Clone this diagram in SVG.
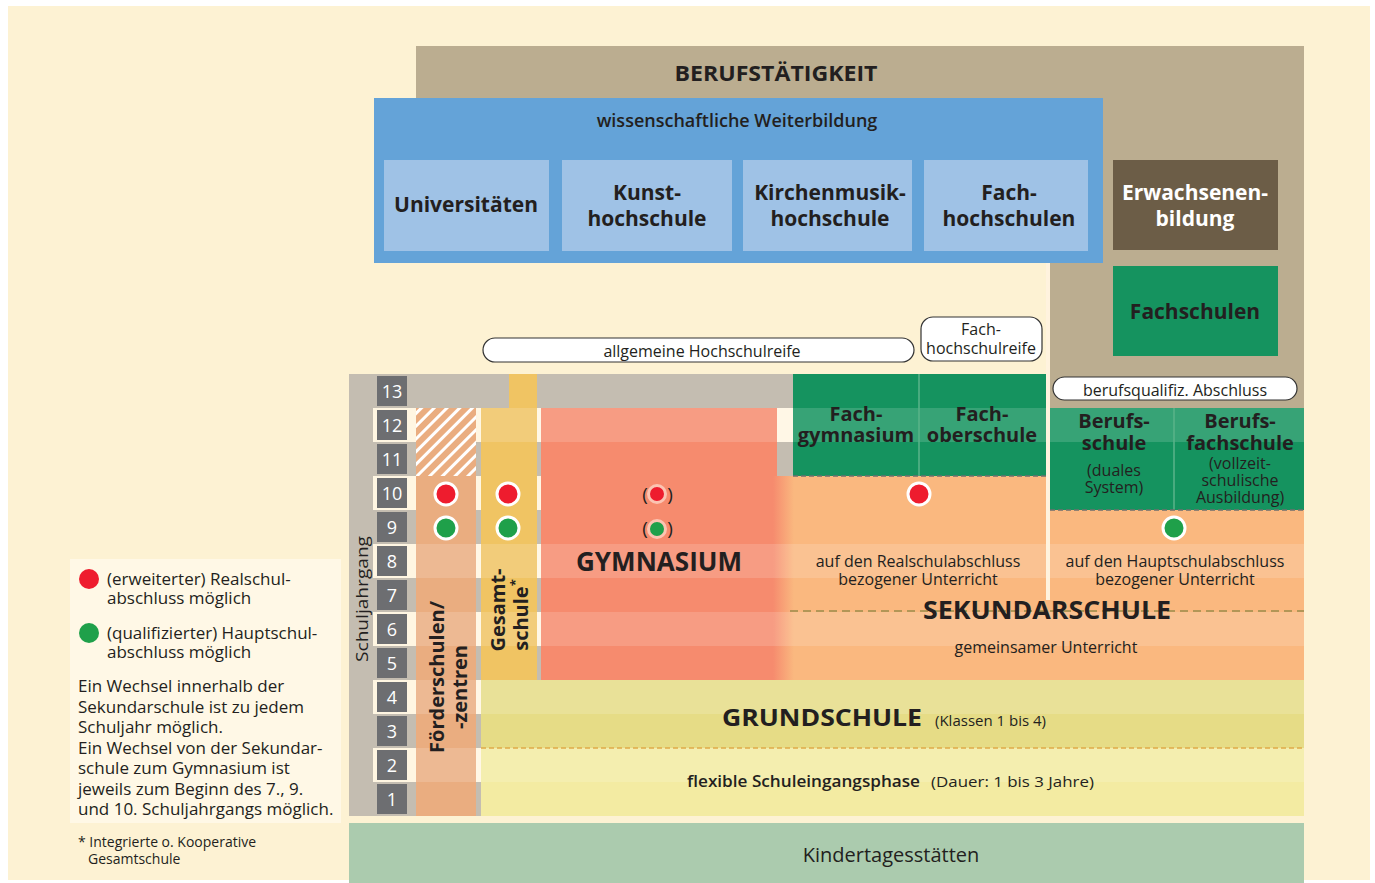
<svg xmlns="http://www.w3.org/2000/svg" width="1375" height="883" viewBox="0 0 1375 883">
<style>
text{font-family:"Open Sans","Liberation Sans",sans-serif;fill:#231f20}
.t{font-size:21px;font-weight:700;text-anchor:middle}
.tw{font-size:21px;font-weight:700;text-anchor:middle;fill:#fff}
.big{font-weight:700;text-anchor:middle}
.m{font-size:16px;text-anchor:middle}
.lg{font-size:17px}
.num{fill:#fff;font-size:18px;text-anchor:middle}
.hl{fill:#fff;opacity:.15}
.cr{fill:#fff6e2}
.pill{fill:#fff;stroke:#333;stroke-width:1.2}
.rd{fill:#ee1c2e;stroke:#fff;stroke-width:3}
.gn{fill:#1fa04a;stroke:#fff;stroke-width:3}
.rdg{fill:#ee1c2e;stroke:#fbc4b2;stroke-width:3}
.gng{fill:#1fa04a;stroke:#fbc4b2;stroke-width:3}
.box{fill:#6d6e71}
</style>
<defs>
<pattern id="hatch" patternUnits="userSpaceOnUse" width="9" height="9" patternTransform="rotate(45)">
<rect width="9" height="9" fill="#eaad80"/>
<rect width="3" height="9" fill="#fff"/>
</pattern>
<linearGradient id="fade" x1="0" x2="1" y1="0" y2="0">
<stop offset="0" stop-color="#f68b6e"/>
<stop offset="1" stop-color="#fab87f"/>
</linearGradient>
</defs>

<rect width="1375" height="883" fill="#fff"/>
<rect x="8" y="6" width="1362" height="874" fill="#fdf2d3"/>

<g id="berufstaetigkeit">
<path d="M416,46 H1304 V408 H1050 V263 H416 Z" fill="#bbad90"/>
<text x="776" y="81" class="big" font-size="21" textLength="203" lengthAdjust="spacingAndGlyphs">BERUFSTÄTIGKEIT</text>
</g>

<g id="weiterbildung">
<rect x="374" y="98" width="729" height="165" fill="#64a3d8"/>
<text x="737" y="127" font-size="18" font-weight="600" text-anchor="middle">wissenschaftliche Weiterbildung</text>
</g>
<g id="universitaeten"><rect x="384" y="160" width="165" height="91" fill="#9fc2e6"/><text x="466" y="212" class="t">Universitäten</text></g>
<g id="kunsthochschule"><rect x="562" y="160" width="170" height="91" fill="#9fc2e6"/><text x="647" y="200" class="t">Kunst-</text><text x="647" y="226" class="t">hochschule</text></g>
<g id="kirchenmusik"><rect x="743" y="160" width="169" height="91" fill="#9fc2e6"/><text x="830" y="200" class="t">Kirchenmusik-</text><text x="830" y="226" class="t">hochschule</text></g>
<g id="fachhochschulen"><rect x="924" y="160" width="164" height="91" fill="#9fc2e6"/><text x="1009" y="200" class="t">Fach-</text><text x="1009" y="226" class="t">hochschulen</text></g>
<g id="erwachsenenbildung"><rect x="1113" y="160" width="165" height="90" fill="#6c5d47"/><text x="1195" y="200" class="tw" font-size="22">Erwachsenen-</text><text x="1195" y="226" class="tw">bildung</text></g>
<g id="fachschulen"><rect x="1113" y="266" width="165" height="90" fill="#15935f"/><text x="1195" y="319" class="t" font-size="22">Fachschulen</text></g>

<g id="grid-base">
<rect x="349" y="374" width="697" height="442" fill="#c4bdb1"/>
<rect class="cr" x="373" y="408" width="673" height="34"/>
<rect class="cr" x="373" y="476" width="673" height="34"/>
<rect class="cr" x="373" y="544" width="673" height="34"/>
<rect class="cr" x="373" y="612" width="673" height="34"/>
<rect class="cr" x="373" y="680" width="673" height="34"/>
<rect class="cr" x="373" y="748" width="673" height="34"/>
<text transform="translate(368,599) rotate(-90)" font-size="17" text-anchor="middle" textLength="126" lengthAdjust="spacingAndGlyphs">Schuljahrgang</text>
</g>

<g id="schuljahrgang-numbers">
<rect class="box" x="377" y="376" width="30" height="30"/><text class="num" x="392" y="398">13</text>
<rect class="box" x="377" y="410" width="30" height="30"/><text class="num" x="392" y="432">12</text>
<rect class="box" x="377" y="444" width="30" height="30"/><text class="num" x="392" y="466">11</text>
<rect class="box" x="377" y="478" width="30" height="30"/><text class="num" x="392" y="500">10</text>
<rect class="box" x="377" y="512" width="30" height="30"/><text class="num" x="392" y="534">9</text>
<rect class="box" x="377" y="546" width="30" height="30"/><text class="num" x="392" y="568">8</text>
<rect class="box" x="377" y="580" width="30" height="30"/><text class="num" x="392" y="602">7</text>
<rect class="box" x="377" y="614" width="30" height="30"/><text class="num" x="392" y="636">6</text>
<rect class="box" x="377" y="648" width="30" height="30"/><text class="num" x="392" y="670">5</text>
<rect class="box" x="377" y="682" width="30" height="30"/><text class="num" x="392" y="704">4</text>
<rect class="box" x="377" y="716" width="30" height="30"/><text class="num" x="392" y="738">3</text>
<rect class="box" x="377" y="750" width="30" height="30"/><text class="num" x="392" y="772">2</text>
<rect class="box" x="377" y="784" width="30" height="30"/><text class="num" x="392" y="806">1</text>
</g>

<g id="foerderschulen">
<rect x="416" y="408" width="60" height="408" fill="#eaad80"/>
<rect x="416" y="408" width="60" height="68" fill="url(#hatch)"/>
</g>
<g id="gesamtschule">
<rect x="481" y="408" width="56" height="272" fill="#f0c463"/>
<rect x="509" y="374" width="28" height="34" fill="#f0c463"/>
</g>
<g id="gymnasium">
<rect x="541" y="408" width="236" height="68" fill="#f68b6e"/>
<rect x="541" y="476" width="240" height="204" fill="#f68b6e"/>
</g>
<g id="sekundarschule">
<rect x="777" y="476" width="527" height="204" fill="#fab87f"/>
<rect x="773" y="476" width="21" height="204" fill="url(#fade)"/>
</g>
<g id="fachgymnasium-fachoberschule">
<rect x="793" y="374" width="253" height="102" fill="#15935f"/>
</g>
<g id="berufsschulen">
<rect x="1050" y="408" width="254" height="102" fill="#15935f"/>
</g>
<g id="grundschule">
<rect x="481" y="680" width="823" height="68" fill="#e6dc86"/>
<rect x="481" y="748" width="823" height="68" fill="#f3eba2"/>
</g>

<g id="row-highlights">
<rect class="hl" x="481" y="408" width="823" height="34"/>
<rect class="hl" x="416" y="544" width="888" height="34"/>
<rect class="hl" x="416" y="612" width="888" height="34"/>
<rect class="hl" x="416" y="680" width="888" height="34"/>
<rect class="hl" x="416" y="748" width="888" height="34"/>
</g>

<g id="connectors">
<rect x="1046" y="263" width="4" height="337" fill="#fff3de"/>
<line x1="919" y1="374" x2="919" y2="476" stroke="#5bb38a" stroke-width="1.5"/>
<line x1="1174" y1="408" x2="1174" y2="510" stroke="#5bb38a" stroke-width="1.5"/>
<line x1="793" y1="476" x2="1046" y2="476" stroke="#6f6f6f" stroke-width="1.5" stroke-dasharray="5,3"/>
<line x1="1050" y1="510" x2="1304" y2="510" stroke="#6f6f6f" stroke-width="1.5" stroke-dasharray="5,3"/>
<line x1="790" y1="611" x2="1304" y2="611" stroke="#9b8a4b" stroke-width="1.5" stroke-dasharray="8,5"/>
<line x1="481" y1="748" x2="1304" y2="748" stroke="#e0aa4a" stroke-width="1.5" stroke-dasharray="5,3"/>
</g>

<g id="labels-grid">
<text transform="translate(444,677) rotate(-90)" class="big" font-size="20">Förderschulen/</text>
<text transform="translate(467,687) rotate(-90)" class="big" font-size="20">-zentren</text>
<text transform="translate(505,610) rotate(-90)" class="big" font-size="20">Gesamt-</text>
<text transform="translate(528,615) rotate(-90)" class="big" font-size="20">schule<tspan font-size="13" dy="-8">*</tspan></text>
<text x="659" y="571" class="big" font-size="26" textLength="166" lengthAdjust="spacingAndGlyphs">GYMNASIUM</text>
<text x="856" y="421" class="big" font-size="20">Fach-</text>
<text x="856" y="442" class="big" font-size="20">gymnasium</text>
<text x="982" y="421" class="big" font-size="20">Fach-</text>
<text x="982" y="442" class="big" font-size="20">oberschule</text>
<text x="1114" y="428" class="big" font-size="20">Berufs-</text>
<text x="1114" y="450" class="big" font-size="20">schule</text>
<text x="1114" y="476" class="m" font-size="15">(duales</text>
<text x="1114" y="493" class="m" font-size="15">System)</text>
<text x="1240" y="428" class="big" font-size="20">Berufs-</text>
<text x="1240" y="450" class="big" font-size="20">fachschule</text>
<text x="1240" y="469" class="m" font-size="15">(vollzeit-</text>
<text x="1240" y="486" class="m" font-size="15">schulische</text>
<text x="1240" y="503" class="m" font-size="15">Ausbildung)</text>
<text x="918" y="567" class="m">auf den Realschulabschluss</text>
<text x="918" y="585" class="m">bezogener Unterricht</text>
<text x="1175" y="567" class="m">auf den Hauptschulabschluss</text>
<text x="1175" y="585" class="m">bezogener Unterricht</text>
<text x="1047" y="619" class="big" font-size="25" textLength="248" lengthAdjust="spacingAndGlyphs">SEKUNDARSCHULE</text>
<text x="1046" y="653" class="m">gemeinsamer Unterricht</text>
<text x="722" y="726" font-size="24" font-weight="700" textLength="200" lengthAdjust="spacingAndGlyphs">GRUNDSCHULE</text>
<text x="935" y="726" font-size="15">(Klassen 1 bis 4)</text>
<text x="687" y="787" font-size="16" font-weight="600" textLength="233" lengthAdjust="spacingAndGlyphs">flexible Schuleingangsphase</text>
<text x="931" y="787" font-size="15" textLength="163" lengthAdjust="spacingAndGlyphs">(Dauer: 1 bis 3 Jahre)</text>
</g>

<g id="kindertagesstaetten">
<rect x="349" y="823" width="955" height="60" fill="#abcbae"/>
<text x="891" y="862" font-size="20" text-anchor="middle">Kindertagesstätten</text>
</g>

<g id="abschluss-pills">
<rect class="pill" x="483" y="338" width="431" height="24" rx="12"/>
<text x="702" y="357" class="m">allgemeine Hochschulreife</text>
<rect class="pill" x="921" y="317" width="121" height="44" rx="12"/>
<text x="981" y="335" class="m">Fach-</text>
<text x="981" y="354" class="m">hochschulreife</text>
<rect class="pill" x="1053" y="377" width="244" height="23" rx="11.5"/>
<text x="1175" y="396" class="m">berufsqualifiz. Abschluss</text>
</g>

<g id="abschluss-dots">
<circle class="rd" cx="446" cy="494" r="11"/>
<circle class="gn" cx="446" cy="528" r="11"/>
<circle class="rd" cx="508" cy="494" r="11"/>
<circle class="gn" cx="508" cy="528" r="11"/>
<text x="645" y="501" font-size="19" text-anchor="middle">(</text>
<circle class="rdg" cx="657" cy="494" r="8.5"/>
<text x="670" y="501" font-size="19" text-anchor="middle">)</text>
<text x="645" y="535" font-size="19" text-anchor="middle">(</text>
<circle class="gng" cx="657" cy="529" r="8.5"/>
<text x="670" y="535" font-size="19" text-anchor="middle">)</text>
<circle class="rd" cx="919" cy="494" r="11"/>
<circle class="gn" cx="1174" cy="528" r="11"/>
</g>

<g id="legend">
<rect x="70" y="559" width="271" height="264" fill="#fff8e6"/>
<circle cx="89" cy="579" r="10" fill="#ee1c2e"/>
<text x="107" y="585" class="lg">(erweiterter) Realschul-</text>
<text x="107" y="604" class="lg">abschluss möglich</text>
<circle cx="89" cy="633" r="10" fill="#1fa04a"/>
<text x="107" y="639" class="lg">(qualifizierter) Hauptschul-</text>
<text x="107" y="658" class="lg">abschluss möglich</text>
<text x="78" y="692" class="lg">Ein Wechsel innerhalb der</text>
<text x="78" y="713" class="lg">Sekundarschule ist zu jedem</text>
<text x="78" y="733" class="lg">Schuljahr möglich.</text>
<text x="78" y="754" class="lg">Ein Wechsel von der Sekundar-</text>
<text x="78" y="774" class="lg">schule zum Gymnasium ist</text>
<text x="78" y="795" class="lg">jeweils zum Beginn des 7., 9.</text>
<text x="78" y="815" class="lg">und 10. Schuljahrgangs möglich.</text>
<text x="78" y="847" font-size="14">* Integrierte o. Kooperative</text>
<text x="88" y="864" font-size="14">Gesamtschule</text>
</g>
</svg>
